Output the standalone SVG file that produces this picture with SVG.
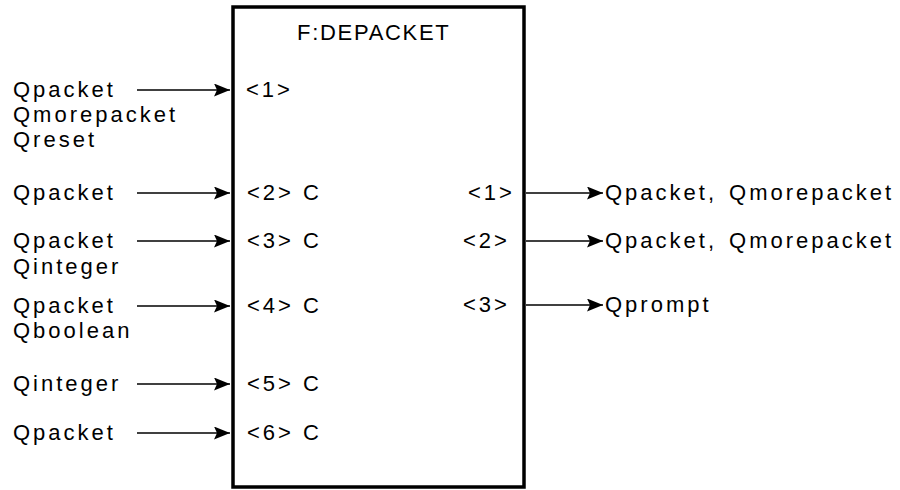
<svg xmlns="http://www.w3.org/2000/svg" width="900" height="490" viewBox="0 0 900 490">
<style>
  text { font-family: "Liberation Sans", Arial, Helvetica, sans-serif; font-size: 22px; fill: #000; letter-spacing: 3px; }
  .title { letter-spacing: 1.7px; }
  .box { fill: #fff; stroke: #000; stroke-width: 3.5; }
  .conn line { stroke: #000; stroke-width: 1.6; fill: none; marker-end: url(#ah); }
</style>
<defs>
  <marker id="ah" viewBox="0 0 16 13" refX="16" refY="6.5" markerWidth="16" markerHeight="13" markerUnits="userSpaceOnUse" orient="auto">
    <path d="M0,0 L16,6.5 L0,13 L3,6.5 Z" fill="#000"/>
  </marker>
</defs>
<rect width="900" height="490" fill="#fff"/>
<g id="depacket">
  <rect class="box" x="233" y="7" width="291" height="480"/>
  <text class="title" x="297" y="40">F:DEPACKET</text>
  <text x="246" y="97">&lt;1&gt;</text>
  <text x="247" y="200">&lt;2&gt; C</text>
  <text x="247" y="248">&lt;3&gt; C</text>
  <text x="247" y="313">&lt;4&gt; C</text>
  <text x="247" y="391">&lt;5&gt; C</text>
  <text x="247" y="440">&lt;6&gt; C</text>
  <text x="468" y="200">&lt;1&gt;</text>
  <text x="463" y="248">&lt;2&gt;</text>
  <text x="463" y="312">&lt;3&gt;</text>
</g>
<g id="inputs">
  <text x="13" y="97">Qpacket</text>
  <text x="13" y="122">Qmorepacket</text>
  <text x="13" y="147">Qreset</text>
  <text x="13" y="200">Qpacket</text>
  <text x="13" y="248">Qpacket</text>
  <text x="13" y="274">Qinteger</text>
  <text x="13" y="313">Qpacket</text>
  <text x="13" y="338">Qboolean</text>
  <text x="13" y="391">Qinteger</text>
  <text x="13" y="440">Qpacket</text>
</g>
<g id="outputs">
  <text x="605" y="200">Qpacket,<tspan dx="12">Qmorepacket</tspan></text>
  <text x="605" y="248">Qpacket,<tspan dx="12">Qmorepacket</tspan></text>
  <text x="605" y="312">Qprompt</text>
</g>
<g id="connectors" class="conn">
  <line x1="137" y1="90" x2="230" y2="90"/>
  <line x1="137" y1="193" x2="230" y2="193"/>
  <line x1="137" y1="241" x2="230" y2="241"/>
  <line x1="137" y1="306" x2="230" y2="306"/>
  <line x1="137" y1="384" x2="230" y2="384"/>
  <line x1="137" y1="433" x2="230" y2="433"/>
  <line x1="526" y1="193" x2="603" y2="193"/>
  <line x1="526" y1="241" x2="603" y2="241"/>
  <line x1="526" y1="305" x2="603" y2="305"/>
</g>
</svg>
